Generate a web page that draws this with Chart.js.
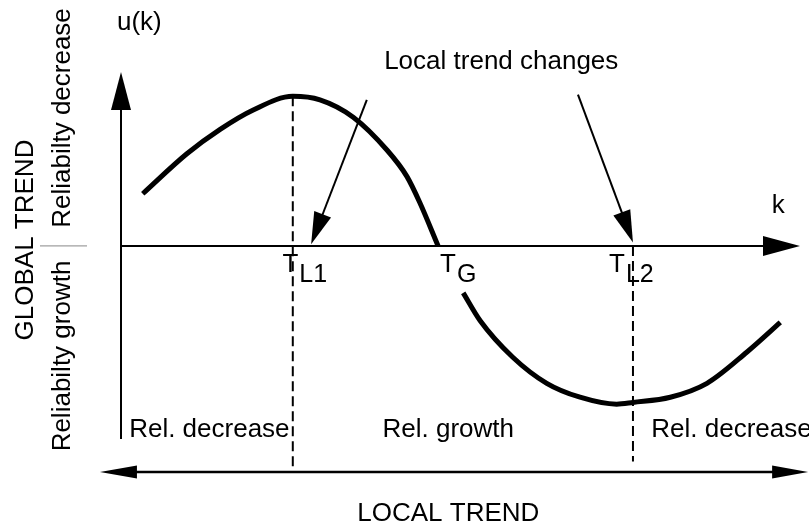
<!DOCTYPE html>
<html>
<head>
<meta charset="utf-8">
<script src="https://cdn.jsdelivr.net/npm/chart.js@4/dist/chart.umd.min.js"></script>
<style>
  html, body { margin: 0; padding: 0; background: #fff; }
  #wrap { width: 809px; height: 526px; position: relative; }
</style>
</head>
<body>
<div id="wrap"><canvas id="trendChart"></canvas></div>
<script>
// curve u(k), null = break behind the T_G label
const kValues = [0.32, 0.97, 1.46, 1.94, 2.53, 2.93, 3.42, 3.92, 4.21, 4.40, 4.67, 4.85, 5.04, 5.29, 5.77, 6.27, 6.76, 7.30, 7.54, 8.09, 8.63, 9.22, 9.71];
const uValues = [0.30, 0.53, 0.67, 0.78, 0.86, 0.84, 0.74, 0.55, 0.40, 0.25, 0.00, null, -0.27, -0.43, -0.64, -0.79, -0.87, -0.91, -0.90, -0.87, -0.79, -0.61, -0.44];

// trend change points on the k axis
const markerKs = [2.53, 4.67, 7.54];
const markerNames = ['L1', 'G', 'L2'];
const markerLabelKs = [2.70, 4.96, 7.51];

// dashed guides at the local trend changes
const guideKs = [2.53, 7.54];
const guideTopU = [0.86, 0.00];
const guideBottomU = [-1.30, -1.24];

// pointer arrows from "Local trend changes"
const pointerStartK = [3.62, 6.73];
const pointerStartU = [0.84, 0.87];
const pointerEndK = [2.80, 7.54];
const pointerEndU = [0.01, 0.02];

const regionLabels = ['Rel. decrease', 'Rel. growth', 'Rel. decrease'];
const regionKs = [0.12, 4.82, 7.81];

const FONT = '"Liberation Sans", Arial, Helvetica, sans-serif';

function arrowHead(ctx, x1, y1, x2, y2, len, half) {
    const a = Math.atan2(y2 - y1, x2 - x1);
    ctx.beginPath();
    ctx.moveTo(x2, y2);
    ctx.lineTo(x2 - len * Math.cos(a) + half * Math.sin(a), y2 - len * Math.sin(a) - half * Math.cos(a));
    ctx.lineTo(x2 - len * Math.cos(a) - half * Math.sin(a), y2 - len * Math.sin(a) + half * Math.cos(a));
    ctx.closePath();
    ctx.fill();
}

function line(ctx, x1, y1, x2, y2, w) {
    ctx.lineWidth = w;
    ctx.beginPath();
    ctx.moveTo(x1, y1);
    ctx.lineTo(x2, y2);
    ctx.stroke();
}

const axesPlugin = {
    id: 'axesPlugin',
    beforeDatasetsDraw(chart) {
        const ctx = chart.ctx;
        const xs = chart.scales.x, ys = chart.scales.y;
        const X = v => xs.getPixelForValue(v), Y = v => ys.getPixelForValue(v);
        ctx.save();
        ctx.strokeStyle = '#000';
        ctx.fillStyle = '#000';
        // u axis
        line(ctx, X(0), Y(-1.11), X(0), Y(0.9), 2);
        arrowHead(ctx, X(0), Y(0), X(0), Y(1.0), 38, 10);
        // k axis
        line(ctx, X(0), Y(0), X(9.5), Y(0), 2);
        arrowHead(ctx, X(0), Y(0), X(10), Y(0), 37, 10);
        // local trend double arrow
        line(ctx, X(-0.1), Y(-1.3), X(9.9), Y(-1.3), 2.5);
        arrowHead(ctx, X(5), Y(-1.3), X(-0.31), Y(-1.3), 37, 6.5);
        arrowHead(ctx, X(5), Y(-1.3), X(10.12), Y(-1.3), 36, 6.5);
        ctx.restore();
    },
    afterDatasetsDraw(chart) {
        const ctx = chart.ctx;
        const xs = chart.scales.x, ys = chart.scales.y;
        const X = v => xs.getPixelForValue(v), Y = v => ys.getPixelForValue(v);
        ctx.save();
        ctx.fillStyle = '#000';
        ctx.strokeStyle = '#000';

        // pointer arrows
        for (let i = 0; i < pointerStartK.length; i++) {
            const x1 = X(pointerStartK[i]), y1 = Y(pointerStartU[i]);
            const x2 = X(pointerEndK[i]), y2 = Y(pointerEndU[i]);
            const a = Math.atan2(y2 - y1, x2 - x1);
            line(ctx, x1, y1, x2 - 20 * Math.cos(a), y2 - 20 * Math.sin(a), 2);
            arrowHead(ctx, x1, y1, x2, y2, 32, 9);
        }

        ctx.font = '26px ' + FONT;
        ctx.textBaseline = 'alphabetic';

        ctx.textAlign = 'center';
        ctx.fillText('u(k)', X(0.27), Y(1.24));
        ctx.fillText('k', X(9.68), Y(0.19));
        ctx.fillText('Local trend changes', X(5.60), Y(1.02));
        ctx.fillText('LOCAL TREND', X(4.82), Y(-1.58));

        // T labels with subscripts
        for (let i = 0; i < markerKs.length; i++) {
            ctx.font = '26px ' + FONT;
            const wT = ctx.measureText('T').width;
            ctx.font = '25px ' + FONT;
            const wS = ctx.measureText(markerNames[i]).width;
            const x0 = X(markerLabelKs[i]) - (wT + wS) / 2;
            ctx.textAlign = 'left';
            ctx.font = '26px ' + FONT;
            ctx.fillText('T', x0, Y(-0.15));
            ctx.font = '25px ' + FONT;
            ctx.fillText(markerNames[i], x0 + wT + 1, Y(-0.21));
        }

        // region labels
        ctx.font = '26px ' + FONT;
        regionLabels.forEach((t, i) => {
            ctx.textAlign = i === 1 ? 'center' : 'left';
            ctx.fillText(t, X(regionKs[i]), Y(-1.10));
        });

        // global trend labels, rotated
        const vtext = (t, x, y) => {
            ctx.save();
            ctx.translate(x, y);
            ctx.rotate(-Math.PI / 2);
            ctx.textAlign = 'center';
            ctx.fillText(t, 0, 0);
            ctx.restore();
        };
        vtext('GLOBAL TREND', 33, 240);
        vtext('Reliabilty decrease', 70, 118);
        vtext('Reliabilty growth', 70, 356);

        ctx.strokeStyle = '#888';
        line(ctx, 40, Y(0), 87, Y(0), 1);
        ctx.restore();
    }
};

const curveData = kValues.map((k, i) => ({ x: k, y: uValues[i] }));
const guideSets = guideKs.map((k, i) => ({
    data: [{ x: k, y: guideTopU[i] }, { x: k, y: guideBottomU[i] }],
    borderColor: '#000',
    borderWidth: 2,
    borderDash: [10, 5],
    pointRadius: 0,
    tension: 0
}));

new Chart(document.getElementById('trendChart'), {
    type: 'line',
    data: {
        datasets: [{
            data: curveData,
            borderColor: '#000',
            borderWidth: 5,
            pointRadius: 0,
            spanGaps: false,
            cubicInterpolationMode: 'monotone',
            fill: false
        }, ...guideSets]
    },
    options: {
        responsive: true,
        maintainAspectRatio: false,
        animation: false,
        devicePixelRatio: 1,
        layout: { padding: { left: 121, right: 9, top: 72, bottom: 54 } },
        plugins: { legend: { display: false }, tooltip: { enabled: false } },
        scales: {
            x: { type: 'linear', min: 0, max: 10, display: false },
            y: { min: -1.3, max: 1.0, display: false }
        }
    },
    plugins: [axesPlugin]
});
</script>
</body>
</html>
